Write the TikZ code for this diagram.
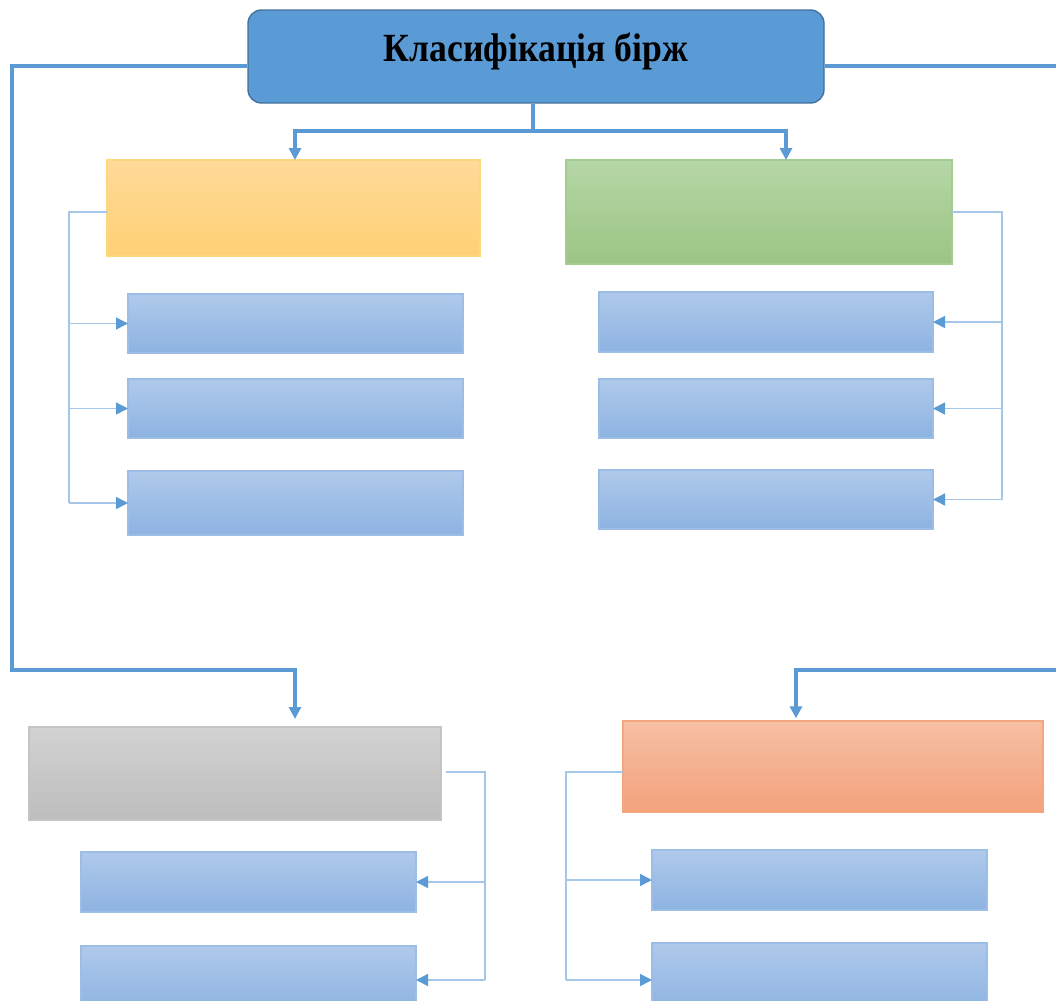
\documentclass[tikz,border=0pt]{standalone}
\usepackage{fontspec}
\usepackage{graphicx}
\setmainfont{Liberation Serif}
\usetikzlibrary{arrows.meta}
\definecolor{tfill}{HTML}{5B9BD5}
\definecolor{tborder}{HTML}{41719C}
\definecolor{mline}{HTML}{5B9BD5}
\definecolor{tline}{HTML}{A6C6E8}
\definecolor{btop}{HTML}{AFC9EA}
\definecolor{bbot}{HTML}{8DB3E2}
\definecolor{bbord}{HTML}{9CBDE6}
\definecolor{ytop}{HTML}{FFDA98}
\definecolor{ybot}{HTML}{FFD175}
\definecolor{ybord}{HTML}{FFD580}
\definecolor{gtop}{HTML}{B6D6A6}
\definecolor{gbot}{HTML}{9BC584}
\definecolor{gbord}{HTML}{A5CC90}
\definecolor{stop}{HTML}{D2D2D2}
\definecolor{sbot}{HTML}{BDBDBD}
\definecolor{sbord}{HTML}{C4C4C4}
\definecolor{otop}{HTML}{F6BFA4}
\definecolor{obot}{HTML}{F4A27C}
\definecolor{obord}{HTML}{F4A67F}
\newcommand{\bx}[6]{\node[#6, minimum width={(#4-#2)*0.75pt}, minimum height={(#5-#3)*0.75pt}] (#1) at ({(#2+#4)/2},{(#3+#5)/2}) {};}
\tikzset{
  gbox/.style={rectangle, inner sep=0pt, outer sep=0pt, line width=0.8pt},
  bluebox/.style={gbox, draw=bbord, top color=btop, bottom color=bbot},
  ybox/.style={gbox, draw=ybord, top color=ytop, bottom color=ybot},
  grbox/.style={gbox, draw=gbord, top color=gtop, bottom color=gbot},
  sbox/.style={gbox, draw=sbord, top color=stop, bottom color=sbot},
  obox/.style={gbox, draw=obord, top color=otop, bottom color=obot},
  mainln/.style={draw=mline, line width=2.6pt, line join=miter},
  mainarr/.style={mainln, -{Triangle[length=9pt,width=9pt]}},
  thinln/.style={draw=tline, line width=1.1pt},
  thinarr/.style={thinln, -{Triangle[length=9pt,width=9pt,color=mline]}},
}
\begin{document}
\begin{tikzpicture}[x=0.75pt,y=-0.75pt]
\useasboundingbox (0,0) rectangle (1056,1000);
% title
\node[rectangle, rounded corners=10pt, draw=tborder, fill=tfill, line width=1pt, inner sep=0pt,
  minimum width={576*0.75pt}, minimum height={93*0.75pt}] (title) at (536,56.5) {};
\node[font=\bfseries\fontsize{30}{33}\selectfont, inner sep=0pt, anchor=base] (ttext) at (536,61) {\scalebox{0.89}[1]{Класифікація бірж}};
% boxes
\bx{yel}{107}{160}{480}{256}{ybox}
\bx{grn}{566}{160}{952}{264}{grbox}
\bx{l1}{128}{294}{463}{353}{bluebox}
\bx{l2}{128}{379}{463}{438}{bluebox}
\bx{l3}{128}{471}{463}{535}{bluebox}
\bx{r1}{599}{292}{933}{352}{bluebox}
\bx{r2}{599}{379}{933}{438}{bluebox}
\bx{r3}{599}{470}{933}{529}{bluebox}
\bx{gry}{29}{727}{441}{820}{sbox}
\bx{org}{623}{721}{1043}{812}{obox}
\bx{gl1}{81}{852}{416}{912}{bluebox}
\bx{gl2}{81}{946}{416}{1010}{bluebox}
\bx{or1}{652}{850}{987}{910}{bluebox}
\bx{or2}{652}{943}{987}{1010}{bluebox}
% top connectors
\coordinate (tj) at (533,131);
\coordinate (ya) at (295,131);
\coordinate (ga) at (786,131);
\draw[mainln] (title.south -| tj) -- (tj);
\draw[mainarr] (tj) -- (ya) -- (ya |- yel.north);
\draw[mainarr] (tj) -- (ga) -- (ga |- grn.north);
% long left connector
\coordinate (lc1) at (12,66);
\coordinate (lc2) at (12,670);
\coordinate (lc3) at (295,670);
\draw[mainarr, shorten >=6pt] (title.west |- lc1) -- (lc1) -- (lc2) -- (lc3) -- (lc3 |- gry.north);
% long right connector
\coordinate (rc1) at (1060,66);
\coordinate (rc2) at (1060,670);
\coordinate (rc3) at (796,670);
\draw[mainln] (title.east |- rc1) -- (rc1);
\draw[mainarr, shorten >=2pt] (rc2) -- (rc3) -- (rc3 |- org.north);
% yellow bracket
\coordinate (yb) at (69,212);
\draw[thinln] (yel.west |- yb) -- (yb) -- (yb |- l3.west);
\draw[thinarr] (yb |- l1.west) -- (l1.west);
\draw[thinarr] (yb |- l2.west) -- (l2.west);
\draw[thinarr] (yb |- l3.west) -- (l3.west);
% green bracket
\coordinate (gb) at (1002,212);
\draw[thinln] (grn.east |- gb) -- (gb) -- (gb |- r3.east);
\draw[thinarr] (gb |- r1.east) -- (r1.east);
\draw[thinarr] (gb |- r2.east) -- (r2.east);
\draw[thinarr] (gb |- r3.east) -- (r3.east);
% grey bracket
\coordinate (sb0) at (446,772);
\coordinate (sb) at (485,772);
\coordinate (sb2) at (485,980);
\draw[thinln] (sb0) -- (sb) -- (sb2);
\draw[thinarr] (sb |- gl1.east) -- (gl1.east);
\draw[thinarr] (sb2) -- (sb2 -| gl2.east);
% orange bracket
\coordinate (ob) at (566,772);
\coordinate (ob2) at (566,980);
\draw[thinln] (org.west |- ob) -- (ob) -- (ob2);
\draw[thinarr] (ob |- or1.west) -- (or1.west);
\draw[thinarr] (ob2) -- (ob2 -| or2.west);
\end{tikzpicture}
\end{document}
